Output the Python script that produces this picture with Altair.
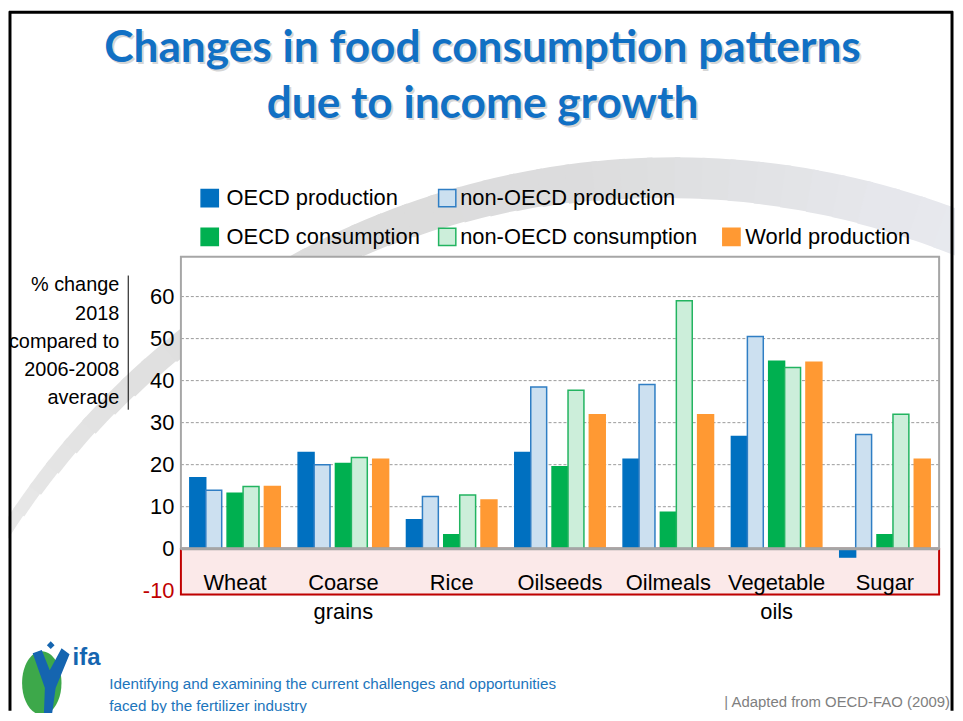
import altair as alt
import pandas as pd

# ---------------- data ----------------
categories = ["Wheat", "Coarse grains", "Rice", "Oilseeds", "Oilmeals", "Vegetable oils", "Sugar"]
category_labels = ["Wheat", "Coarse\ngrains", "Rice", "Oilseeds", "Oilmeals", "Vegetable\noils", "Sugar"]
series = ["OECD production", "non-OECD production", "OECD consumption",
          "non-OECD consumption", "World production"]
oecd_production = [16.9, 22.9, 6.9, 22.9, 21.3, 26.7, -2.0]
non_oecd_production = [13.9, 20.0, 12.4, 38.5, 39.1, 50.5, 27.2]
oecd_consumption = [13.2, 20.3, 3.3, 19.5, 8.7, 44.6, 3.3]
non_oecd_consumption = [14.8, 21.7, 12.8, 37.7, 59.0, 43.1, 32.0]
world_production = [14.8, 21.3, 11.6, 31.9, 31.9, 44.4, 21.3]
y_ticks = [-10, 0, 10, 20, 30, 40, 50, 60]
grid_ticks = [10, 20, 30, 40, 50, 60]

title_lines = ["Changes in food consumption patterns", "due to income growth"]
y_title = "% change\n2018\ncompared to\n2006-2008\naverage"
footer_lines = ["Identifying and examining the current challenges and opportunities",
                "faced by the fertilizer industry"]
source_text = "| Adapted from OECD-FAO (2009)"

rows = []
for i, c in enumerate(categories):
    for s, vals in zip(series, [oecd_production, non_oecd_production, oecd_consumption,
                                non_oecd_consumption, world_production]):
        rows.append({"category": c, "series": s, "value": vals[i]})
df = pd.DataFrame(rows)
labels_df = pd.DataFrame({"category": categories, "label": category_labels})
grid_df = pd.DataFrame({"tick": grid_ticks})
one = pd.DataFrame({"k": [0]})

# ---------------- style ----------------
W, H = 763, 340
FONT = "Liberation Sans"
fills = ["#0070C0", "#CCE0F0", "#00B050", "#CCEEDA", "#FF9933"]
strokes = ["#0070C0", "#2F7EC4", "#00B050", "#22B460", "#FF9933"]
# slots inside each category band (gaps between bar pairs)
slot_domain = ["·l1", "·l2", series[0], "·a", "·b", series[1], "·c", "·d", "·e", series[2],
               "·f", "·g", series[3], "·h", "·i", "·j", series[4], "·r1", "·r2"]

x_scale = alt.Scale(domain=categories, paddingInner=0, paddingOuter=0)
y_scale = alt.Scale(domain=[-10.9, 69.5], nice=False)

layers = []

# decorative swoosh: crescent drawn as small arc segments (thickness and shade profile)
DEG = 3.14159265 / 180
profile = [(288, 0, 244, 244, 244), (300, 10, 234, 234, 234), (315, 20, 225, 225, 225),
           (335, 32, 220, 220, 220), (355, 40, 221, 221, 222), (375, 44, 230, 231, 236),
           (396, 46, 236, 238, 246)]


def interp(a):
    for (a0, t0, r0, g0, b0), (a1, t1, r1, g1, b1) in zip(profile[:-1], profile[1:]):
        if a0 <= a <= a1:
            f = (a - a0) / (a1 - a0)
            return (t0 + f * (t1 - t0), int(r0 + f * (r1 - r0)), int(g0 + f * (g1 - g0)),
                    int(b0 + f * (b1 - b0)))
    return profile[-1][1:]


a = 290
while a < 396:
    th, r, g, b = interp(a + 1)
    layers.append(alt.Chart(one).mark_arc(theta=a * DEG, theta2=(a + 2.4) * DEG, radius=803,
                                          radius2=803 - max(th, 1), color=f"#{r:02x}{g:02x}{b:02x}")
                  .encode(x=alt.value(497), y=alt.value(703)))
    a += 2

# white plot background
layers.append(alt.Chart(one).mark_rect(fill="white")
              .encode(x=alt.value(0), x2=alt.value(W), y=alt.value(0), y2=alt.value(H)))
# pink negative band
layers.append(alt.Chart(one).mark_rect(fill="#FBE9E9", stroke="#C00000", strokeWidth=2)
              .encode(x=alt.value(0), x2=alt.value(W), y=alt.datum(0, scale=y_scale), y2=alt.value(H)))
# grid
layers.append(alt.Chart(grid_df).mark_rule(color="#9A9A9A", strokeDash=[3, 2], strokeWidth=1)
              .encode(y=alt.Y("tick:Q", scale=y_scale)))

# bars
layers.append(alt.Chart(df).mark_bar(width=16, strokeWidth=1.5).encode(
    x=alt.X("category:N", scale=x_scale, axis=None, sort=categories),
    xOffset=alt.XOffset("series:N", scale=alt.Scale(domain=slot_domain, paddingInner=0, paddingOuter=0.67)),
    y=alt.Y("value:Q", scale=y_scale, axis=alt.Axis(
        values=y_ticks, title=None, grid=False, domain=False, ticks=False, zindex=1,
        labelFontSize=22, labelFont=FONT, labelPadding=7, labelExpr="datum.value + ''",
        labelColor=alt.condition("datum.value < 0", alt.value("#C00000"), alt.value("#000000")))),
    fill=alt.Fill("series:N", scale=alt.Scale(domain=series, range=fills), legend=None),
    stroke=alt.Stroke("series:N", scale=alt.Scale(domain=series, range=strokes), legend=None),
))

# zero line and upper border
layers.append(alt.Chart(one).mark_rule(color="#A0A0A0", strokeWidth=3)
              .encode(y=alt.datum(0, scale=y_scale)))
layers.append(alt.Chart(one).mark_rect(fillOpacity=0, stroke="#A6A6A6", strokeWidth=2)
              .encode(x=alt.value(0), x2=alt.value(W), y=alt.datum(0, scale=y_scale), y2=alt.value(0)))

# category labels
layers.append(alt.Chart(labels_df).mark_text(fontSize=22, font=FONT, baseline="alphabetic",
                                             lineBreak="\n", lineHeight=30, color="#000000")
              .encode(x=alt.X("category:N", scale=x_scale, axis=None, sort=categories),
                      y=alt.value(335), text="label:N"))

# y-axis title + bar
layers.append(alt.Chart(one).mark_text(text=y_title, lineBreak="\n", lineHeight=28.3, fontSize=20,
                                       font=FONT, align="right", baseline="middle", color="#000000")
              .encode(x=alt.value(-62), y=alt.value(29)))
layers.append(alt.Chart(one).mark_rule(color="#000000", strokeWidth=1)
              .encode(x=alt.value(-53), x2=alt.value(-53), y=alt.value(19), y2=alt.value(154)))

# title with shadow
for line, ty in zip(title_lines, [-209, -153]):
    layers.append(alt.Chart(one).mark_text(text=line, fontSize=44.5, font="Lato", fontWeight="bold",
                                           color="#9A9A9A", opacity=0.4, align="center", baseline="middle")
                  .encode(x=alt.value(305.5), y=alt.value(ty + 2.5)))
    layers.append(alt.Chart(one).mark_text(text=line, fontSize=44.5, font="Lato", fontWeight="bold",
                                           color="#1170C4", align="center", baseline="middle")
                  .encode(x=alt.value(303.5), y=alt.value(ty)))

# legend
leg_sq = [(29, -59), (268, -59), (29, -20), (268, -20), (554, -20)]
leg_tx = [(46, -59), (281, -59), (46, -20), (281, -20), (568, -20)]
for s, f, st, (sx, sy), (tx, ty) in zip(series, fills, strokes, leg_sq, leg_tx):
    layers.append(alt.Chart(one).mark_square(size=300, fill=f, stroke=st, strokeWidth=1.5, opacity=1)
                  .encode(x=alt.value(sx), y=alt.value(sy)))
    layers.append(alt.Chart(one).mark_text(text=s, fontSize=22, font=FONT, align="left",
                                           baseline="middle", color="#000000")
                  .encode(x=alt.value(tx), y=alt.value(ty)))

# footer
for line, fy in zip(footer_lines, [430, 452]):
    layers.append(alt.Chart(one).mark_text(text=line, fontSize=15.3, font=FONT,
                                           align="left", baseline="middle", color="#1C75BC")
                  .encode(x=alt.value(-72), y=alt.value(fy)))
layers.append(alt.Chart(one).mark_text(text=source_text, fontSize=15, font=FONT,
                                       align="right", baseline="middle", color="#7F7F7F")
              .encode(x=alt.value(774), y=alt.value(448)))
# ifa logo
ellipse = "M -0.62 0 A 0.62 1 0 1 0 0.62 0 A 0.62 1 0 1 0 -0.62 0 Z"
figure = ("M -0.49 -0.8 L -0.23 -0.89 L 0 -0.31 L 0.34 -0.94 L 0.57 -0.77 L 0.17 0.2 "
          "L 0.06 1 L -0.17 1 L -0.14 0.2 Z")
layers.append(alt.Chart(one).mark_point(shape=ellipse, size=4096, filled=True, color="#3DA84A", opacity=1)
              .encode(x=alt.value(-140), y=alt.value(429)))
layers.append(alt.Chart(one).mark_point(shape=figure, size=4900, filled=True, color="#1565B0", opacity=1)
              .encode(x=alt.value(-132), y=alt.value(427)))
layers.append(alt.Chart(one).mark_point(shape="diamond", size=60, filled=True, color="#1565B0", opacity=1)
              .encode(x=alt.value(-131), y=alt.value(391)))
layers.append(alt.Chart(one).mark_text(text="ifa", fontSize=24, font=FONT, fontWeight="bold",
                                       color="#1565B0", align="center", baseline="middle")
              .encode(x=alt.value(-95), y=alt.value(404)))

# frame
layers.append(alt.Chart(one).mark_rule(color="#000000", strokeWidth=3)
              .encode(x=alt.value(-172), x2=alt.value(-172), y=alt.value(-247), y2=alt.value(457)))
layers.append(alt.Chart(one).mark_rule(color="#000000", strokeWidth=3)
              .encode(x=alt.value(-173), x2=alt.value(777), y=alt.value(-246), y2=alt.value(-246)))
layers.append(alt.Chart(one).mark_rule(color="#000000", strokeWidth=3)
              .encode(x=alt.value(776), x2=alt.value(776), y=alt.value(-247), y2=alt.value(457)))

chart = alt.layer(*layers).properties(
    width=W, height=H,
    autosize=alt.AutoSizeParams(type="none"),
    padding={"left": 174, "top": 248, "right": 16, "bottom": 117},
).configure_view(stroke=None).configure(background="white")

chart.save("out.html", embed_options={"renderer": "svg", "actions": False})
